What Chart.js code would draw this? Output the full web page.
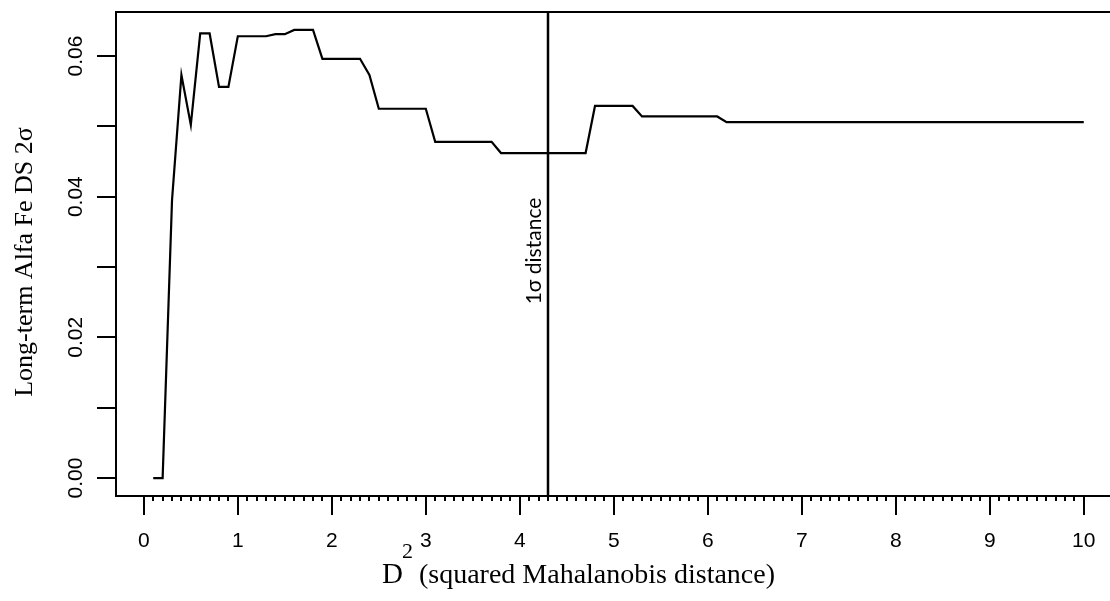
<!DOCTYPE html>
<html>
<head>
<meta charset="utf-8">
<script src="https://cdn.jsdelivr.net/npm/chart.js@4/dist/chart.umd.min.js"></script>
<style>
html, body { margin: 0; padding: 0; background: #fff; overflow: hidden; }
#wrap { width: 1125px; height: 601px; }
</style>
</head>
<body>
<div id="wrap"><canvas id="chart" width="1125" height="601"></canvas></div>
<script>
// squared Mahalanobis distance (x) and long-term 2 sigma (y)
var distances = [
  0.1, 0.2, 0.3, 0.4, 0.5, 0.6, 0.7, 0.8, 0.9, 1.0,
  1.1, 1.2, 1.3, 1.4, 1.5, 1.6, 1.7, 1.8, 1.9, 2.0,
  2.1, 2.2, 2.3, 2.4, 2.5, 2.6, 2.7, 2.8, 2.9, 3.0,
  3.1, 3.2, 3.3, 3.4, 3.5, 3.6, 3.7, 3.8, 3.9, 4.0,
  4.1, 4.2, 4.3, 4.4, 4.5, 4.6, 4.7, 4.8, 4.9, 5.0,
  5.1, 5.2, 5.3, 5.4, 5.5, 5.6, 5.7, 5.8, 5.9, 6.0,
  6.1, 6.2, 6.3, 6.4, 6.5, 6.6, 6.7, 6.8, 6.9, 7.0,
  7.1, 7.2, 7.3, 7.4, 7.5, 7.6, 7.7, 7.8, 7.9, 8.0,
  8.1, 8.2, 8.3, 8.4, 8.5, 8.6, 8.7, 8.8, 8.9, 9.0,
  9.1, 9.2, 9.3, 9.4, 9.5, 9.6, 9.7, 9.8, 9.9, 10.0
];
var alfaFe = [
  0.0000, 0.0000, 0.0395, 0.0573, 0.0502, 0.0632, 0.0632, 0.0556, 0.0556, 0.0628,
  0.0628, 0.0628, 0.0628, 0.0631, 0.0631, 0.0637, 0.0637, 0.0637, 0.0596, 0.0596,
  0.0596, 0.0596, 0.0596, 0.0573, 0.0525, 0.0525, 0.0525, 0.0525, 0.0525, 0.0525,
  0.0478, 0.0478, 0.0478, 0.0478, 0.0478, 0.0478, 0.0478, 0.0462, 0.0462, 0.0462,
  0.0462, 0.0462, 0.0462, 0.0462, 0.0462, 0.0462, 0.0462, 0.0529, 0.0529, 0.0529,
  0.0529, 0.0529, 0.0514, 0.0514, 0.0514, 0.0514, 0.0514, 0.0514, 0.0514, 0.0514,
  0.0514, 0.0506, 0.0506, 0.0506, 0.0506, 0.0506, 0.0506, 0.0506, 0.0506, 0.0506,
  0.0506, 0.0506, 0.0506, 0.0506, 0.0506, 0.0506, 0.0506, 0.0506, 0.0506, 0.0506,
  0.0506, 0.0506, 0.0506, 0.0506, 0.0506, 0.0506, 0.0506, 0.0506, 0.0506, 0.0506,
  0.0506, 0.0506, 0.0506, 0.0506, 0.0506, 0.0506, 0.0506, 0.0506, 0.0506, 0.0506
];

var xTicks = [0, 1, 2, 3, 4, 5, 6, 7, 8, 9, 10];
var yTicks = [0, 0.01, 0.02, 0.03, 0.04, 0.05, 0.06];
var yTickLabels = ["0.00", "", "0.02", "", "0.04", "", "0.06"];

var sigmaDistance = 4.3;
var sigmaText = "1σ distance";
var xTitle = "D";
var xTitleSup = "2";
var xTitleRest = " (squared Mahalanobis distance)";
var yTitle = "Long-term Alfa Fe DS 2σ";

// R style axis range (4% padding)
var xMin = -0.296, xMax = 10.396;
var yMin = -0.00255, yMax = 0.06625;

var points = [];
for (var i = 0; i < distances.length; i++) {
  points.push({ x: distances[i], y: alfaFe[i] });
}

var rAxes = {
  id: 'rAxes',
  afterDraw: function(chart) {
    var ctx = chart.ctx;
    var a = chart.chartArea;
    var xs = chart.scales.x, ys = chart.scales.y;
    ctx.save();
    ctx.strokeStyle = '#000';
    ctx.fillStyle = '#000';
    ctx.lineWidth = 2;
    ctx.strokeRect(a.left, a.top, a.right - a.left, a.bottom - a.top);

    // x minor ticks every 0.1
    ctx.lineWidth = 2;
    ctx.beginPath();
    for (var k = 0; k <= 100; k++) {
      var px = Math.round(xs.getPixelForValue(k / 10));
      ctx.moveTo(px, a.bottom);
      ctx.lineTo(px, a.bottom + 5);
    }
    ctx.stroke();

    // x major ticks + labels
    ctx.lineWidth = 2;
    ctx.beginPath();
    xTicks.forEach(function(v) {
      var px = Math.round(xs.getPixelForValue(v));
      ctx.moveTo(px, a.bottom);
      ctx.lineTo(px, a.bottom + 19);
    });
    ctx.stroke();
    ctx.font = '21px "Liberation Sans", Arial, sans-serif';
    ctx.textAlign = 'center';
    ctx.textBaseline = 'alphabetic';
    xTicks.forEach(function(v) {
      ctx.fillText(String(v), xs.getPixelForValue(v), 547);
    });

    // y ticks + rotated labels
    ctx.beginPath();
    yTicks.forEach(function(v) {
      var py = Math.round(ys.getPixelForValue(v));
      ctx.moveTo(a.left, py);
      ctx.lineTo(a.left - 19, py);
    });
    ctx.stroke();
    yTicks.forEach(function(v, idx) {
      if (!yTickLabels[idx]) return;
      ctx.save();
      ctx.translate(82, ys.getPixelForValue(v));
      ctx.rotate(-Math.PI / 2);
      ctx.fillText(yTickLabels[idx], 0, 0);
      ctx.restore();
    });

    // x title with superscript
    ctx.textAlign = 'left';
    var x0 = 382;
    ctx.font = '29px "Liberation Serif", serif';
    ctx.fillText(xTitle, x0, 583);
    var w1 = ctx.measureText(xTitle).width;
    ctx.font = '22px "Liberation Serif", serif';
    ctx.fillText(xTitleSup, x0 + w1 - 1, 558);
    var w2 = ctx.measureText(xTitleSup).width;
    ctx.font = '28px "Liberation Serif", serif';
    ctx.fillText(xTitleRest, x0 + w1 + w2 - 2, 583);

    // y title
    ctx.save();
    ctx.translate(32, 262);
    ctx.rotate(-Math.PI / 2);
    ctx.textAlign = 'center';
    ctx.font = '26px "Liberation Serif", serif';
    ctx.fillText(yTitle, 0, 0);
    ctx.restore();

    // label for the 1 sigma line
    ctx.save();
    ctx.translate(541, 251);
    ctx.rotate(-Math.PI / 2);
    ctx.textAlign = 'center';
    ctx.font = '21px Lato, "Open Sans", sans-serif';
    ctx.fillText(sigmaText, 0, 0);
    ctx.restore();

    ctx.restore();
  }
};

new Chart(document.getElementById('chart'), {
  type: 'scatter',
  data: {
    datasets: [
      {
        label: 'Alfa Fe',
        data: points,
        showLine: true,
        borderColor: '#000',
        borderWidth: 2.2,
        pointRadius: 0,
        tension: 0
      },
      {
        label: '1 sigma',
        data: [{ x: sigmaDistance, y: yMin }, { x: sigmaDistance, y: yMax }],
        showLine: true,
        borderColor: '#000',
        borderWidth: 2.5,
        pointRadius: 0
      }
    ]
  },
  options: {
    responsive: false,
    animation: false,
    devicePixelRatio: 1,
    layout: { padding: { left: 116, top: 12, right: 4, bottom: 105 } },
    plugins: { legend: { display: false }, tooltip: { enabled: false } },
    scales: {
      x: { type: 'linear', min: xMin, max: xMax, display: false },
      y: { type: 'linear', min: yMin, max: yMax, display: false }
    }
  },
  plugins: [rAxes]
});
</script>
</body>
</html>
